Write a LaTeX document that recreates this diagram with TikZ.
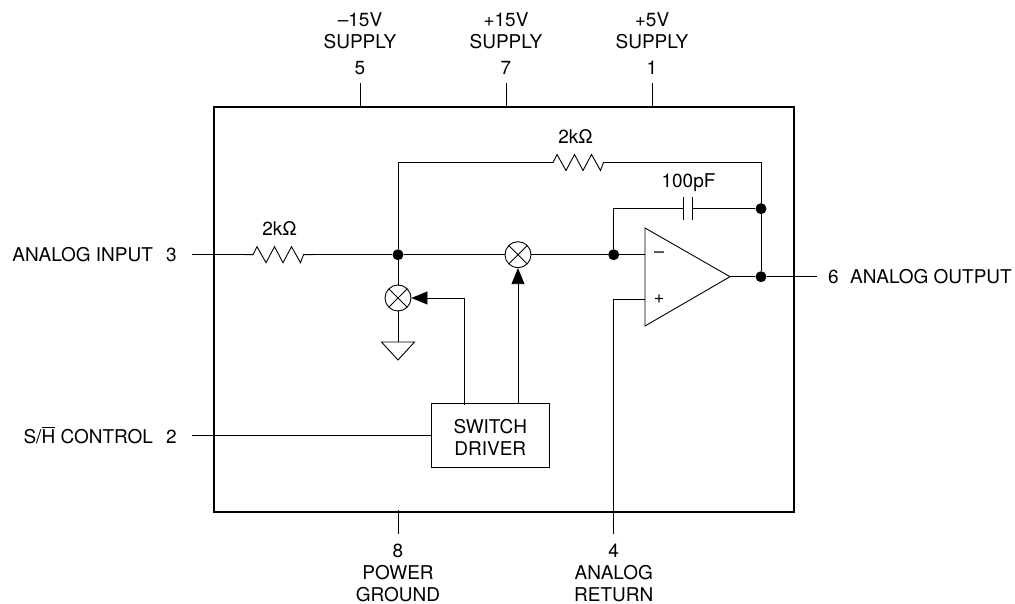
\documentclass[tikz,border=0pt]{standalone}
\usepackage{fontspec}
\usepackage{amsmath}
\setmainfont{TeX Gyre Heros}
\usetikzlibrary{arrows.meta}
\tikzset{
	lbl/.style={inner sep=0pt,font=\fontsize{19}{22}\selectfont,align=center},
	dot/.style={circle,fill,inner sep=0pt,minimum size=11pt},
	swtch/.style={circle,draw,line width=0.9pt,fill=white,inner sep=0pt,minimum size=26pt,
		path picture={\draw [line width=0.9pt] (path picture bounding box.north west) -- (path picture bounding box.south east)
			(path picture bounding box.north east) -- (path picture bounding box.south west);}},
	wire/.style={line width=0.9pt},
	ctl/.style={line width=0.9pt,-{Triangle[length=16pt,width=13pt]}}
}
\newcommand{\zigzag}[2]{% resistor between two coordinates
	\draw [wire] (#1) -- ++(8,0) -- ++(4,-8) -- ++(9,16) -- ++(8.5,-16) -- ++(8.5,16) -- ++(8.5,-16) -- ++(9,16) -- ++(3,-8) -- (#2);
}
\begin{document}
\begin{tikzpicture}[x=1pt,y=-1pt]
	\useasboundingbox (0,0) rectangle (1015,604);
	\node (chip) at (504,309.5) [draw,line width=1.3pt,minimum width=580pt,minimum height=405pt,inner sep=0pt] {};

	\node (driver) at (490.3,435) [draw,wire,minimum width=117.5pt,minimum height=64pt,inner sep=0pt] {};
	\node (ldrv) at (490.3,437) [lbl] {SWITCH\\DRIVER};
	\node (sw1) at (518,254.7) [swtch] {};
	\node (sw2) at (398,298) [swtch] {};
	\node (j1) at (398,254.7) [dot] {};
	\node (j2) at (613.7,254.7) [dot] {};
	\node (j3) at (761,208.7) [dot] {};
	\node (j4) at (761,276.7) [dot] {};

	% pin labels
	\node (lm15) at (360,30.5) [lbl] {--15V\\SUPPLY};
	\node (lp15) at (506,30.5) [lbl] {+15V\\SUPPLY};
	\node (lp5) at (652,30.5) [lbl] {+5V\\SUPPLY};
	\node (n5) at (360,68) [lbl] {5};
	\node (n7) at (506,68) [lbl] {7};
	\node (n1) at (652,68) [lbl] {1};
	\node (lin) [lbl,anchor=east] at (177,254.7) {ANALOG INPUT\hspace{0.7em}3};
	\node (lsh) [lbl,anchor=east] at (177,435.5) {S/$\overline{\mbox{H}}$ CONTROL\hspace{0.7em}2};
	\node (lout) [lbl,anchor=west] at (828,276.7) {6\hspace{0.6em}ANALOG OUTPUT};
	\node (lgnd) at (398,572.5) [lbl] {8\\POWER\\GROUND};
	\node (lret) at (613.7,572.5) [lbl] {4\\ANALOG\\RETURN};
	\node (lr1) at (279.5,228) [lbl] {2kΩ};
	\node (lr2) at (575.5,136) [lbl] {2kΩ};
	\node (lc) at (688.5,183) [lbl] {100pF};

	% op amp
	\coordinate (oa) at (645,228);
	\coordinate (ob) at (645,326);
	\coordinate (oc) at (730,276.7);
	\coordinate (om) at (645,254.7);
	\coordinate (op) at (645,299);
	\draw [wire] (oa) -- (oc) -- (ob) -- cycle;
	\node (minus) at (659,255) [lbl,font=\fontsize{18}{20}\selectfont] {--};
	\node (plus) at (659,299) [lbl,font=\fontsize{18}{20}\selectfont] {+};

	% free pin ends
	\coordinate (p5) at (360,83);
	\coordinate (p7) at (506,83);
	\coordinate (p1) at (652,83);
	\coordinate (t5) at (360,107);
	\coordinate (t7) at (506,107);
	\coordinate (t1) at (652,107);
	\coordinate (p3) at (192,254.7);
	\coordinate (p2) at (192,435.5);
	\coordinate (p6) at (816.7,276.7);
	\coordinate (p8) at (398,533.7);
	\coordinate (b8) at (398,510);
	\coordinate (p4) at (613.7,533.7);

	\draw [wire] (p5) -- (t5) (p7) -- (t7) (p1) -- (t1) (p8) -- (b8);
	\draw [wire] (p2) -- (driver.west |- p2);

	% input and feedback
	\coordinate (r1a) at (245,254.7);
	\coordinate (r1b) at (313,254.7);
	\coordinate (r2a) at (545,162.5);
	\coordinate (r2b) at (612,162.5);
	\draw [wire] (p3) -- (r1a);
	\zigzag{r1a}{r1b}
	\draw [wire] (r1b) -- (j1) -- (sw1) -- (j2) -- (om);
	\draw [wire] (j1) |- (r2a);
	\zigzag{r2a}{r2b}
	\draw [wire] (r2b) -| (j4);
	\draw [wire] (oc) -- (j4) -- (p6);

	% capacitor
	\coordinate (c1) at (683.5,208.7);
	\coordinate (c2) at (692.5,208.7);
	\draw [wire] (j2) |- (c1);
	\draw [wire] (c2) -- (j3);
	\draw [wire] (683.5,197) -- (683.5,220) (692.5,197) -- (692.5,220);

	\draw [wire] (op) -| (p4);

	% switch to ground
	\coordinate (g0) at (398,342);
	\draw [wire] (j1) -- (sw2) -- (g0);
	\draw [wire] (381.5,342) -- (414.5,342) -- (398,360) -- cycle;

	% control lines
	\draw [ctl] (driver.north -| sw1) -- (sw1);
	\draw [ctl] (464,405) |- (sw2);
\end{tikzpicture}
\end{document}
